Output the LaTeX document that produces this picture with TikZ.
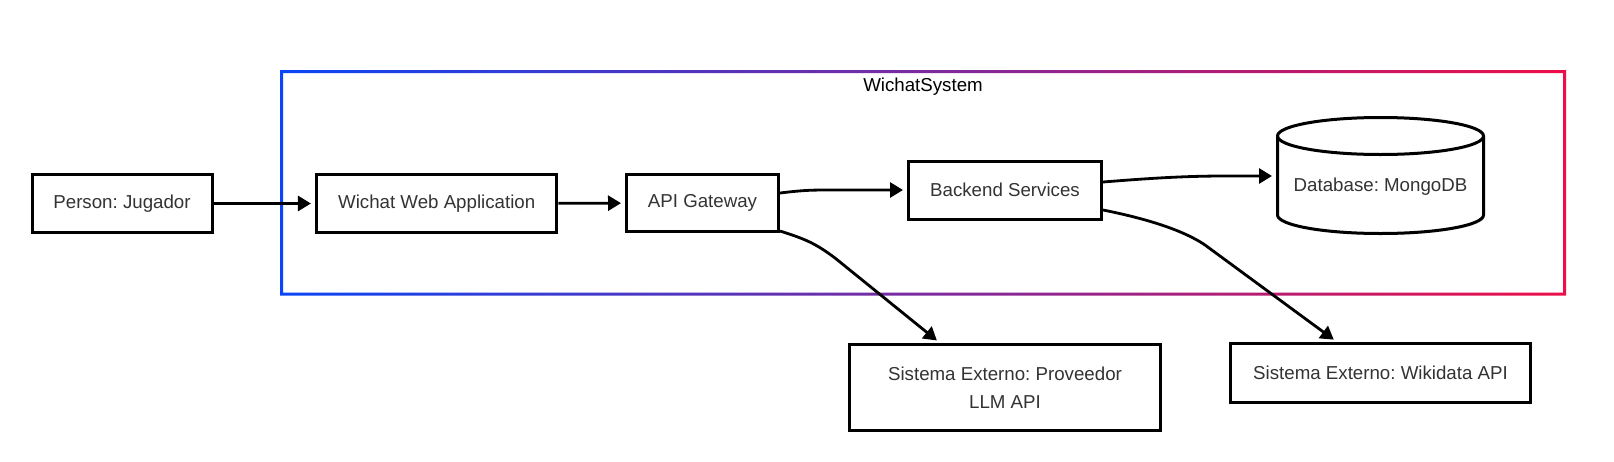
\documentclass[tikz,border=0pt]{standalone}
\usepackage{fontspec}
\setmainfont{Liberation Sans}
\usetikzlibrary{arrows.meta,shadows,calc}
\definecolor{txt}{HTML}{333333}
\definecolor{frameL}{HTML}{0A46F5}
\definecolor{frameR}{HTML}{EC0F48}
\tikzset{
  box/.style={draw=black, line width=3pt, fill=white, text=txt, inner sep=0pt, align=center,
    drop shadow={shadow xshift=1.5pt, shadow yshift=-1.5pt, opacity=0.22}},
  conn/.style={line width=2.8pt, -{Triangle[length=13pt,width=15pt]}, shorten >=4pt},
}
\begin{document}
\frenchspacing
\begin{tikzpicture}[x=1pt, y=-1pt, font=\fontsize{18.7}{28.5}\selectfont]
\useasboundingbox (0,0) rectangle (1614,461);
% system boundary with gradient stroke
\shade[left color=frameL, right color=frameR, even odd rule]
  (280,70) rectangle (1566,295.5) (283,73) rectangle (1563,292.5);
\node[text=black] (title) at (923,86.5) {WichatSystem};

% nodes
\node[box, minimum width=180pt, minimum height=58pt] (person) at (122,203.5) {Person: Jugador};
\node[box, minimum width=240.5pt, minimum height=58pt] (wichat) at (436.7,203.5) {Wichat Web Application};
\node[box, minimum width=152pt, minimum height=57pt] (api) at (702.5,203) {API Gateway};
\node[box, minimum width=193pt, minimum height=58pt] (backend) at (1005,190) {Backend Services};
\node[box, minimum width=311pt, minimum height=86pt] (llm) at (1005,387.5) {Sistema Externo: Proveedor\\LLM API};
\node[box, minimum width=300pt, minimum height=59pt] (wiki) at (1380.5,373) {Sistema Externo: Wikidata API};

% database cylinder
\filldraw[fill=white, line width=3pt, drop shadow={shadow xshift=1.5pt, shadow yshift=-1.5pt, opacity=0.22}]
  (1277.5,136) -- (1277.5,215)
  arc[start angle=180, end angle=0, x radius=103, y radius=18.5]
  -- (1483.5,136)
  arc[start angle=0, end angle=-180, x radius=103, y radius=18.5] -- cycle;
\draw[line width=3pt] (1277.5,136) arc[start angle=180, end angle=0, x radius=103, y radius=18.5];
\node[inner sep=0pt, outer sep=0pt, minimum width=209pt, minimum height=118pt] (db) at (1380.5,176) {};
\node[text=txt] (dblabel) at ([yshift=-10.5pt]db.center) {Database: MongoDB};

% connectors
\draw[conn] (person) -- (wichat);
\draw[conn] (wichat) -- (api);
\draw[conn] ([yshift=10pt]api.east) .. controls +(25,-3) and +(-20,0) .. ([xshift=-75pt]backend.west) -- (backend.west);
\draw[conn] ([yshift=-28pt]api.east) .. controls +(25,8) and +(-20,-15) .. (835,258) -- ([xshift=-65pt]llm.north);
\draw[conn] ([yshift=8pt]backend.east) .. controls +(50,-4) and +(-40,0) .. ([xshift=-50pt]db.west) -- (db.west);
\draw[conn] ([yshift=-20pt]backend.east) .. controls +(35,7) and +(-25,-17) .. (1205,245) -- ([xshift=-43.5pt]wiki.north);
\end{tikzpicture}
\end{document}
